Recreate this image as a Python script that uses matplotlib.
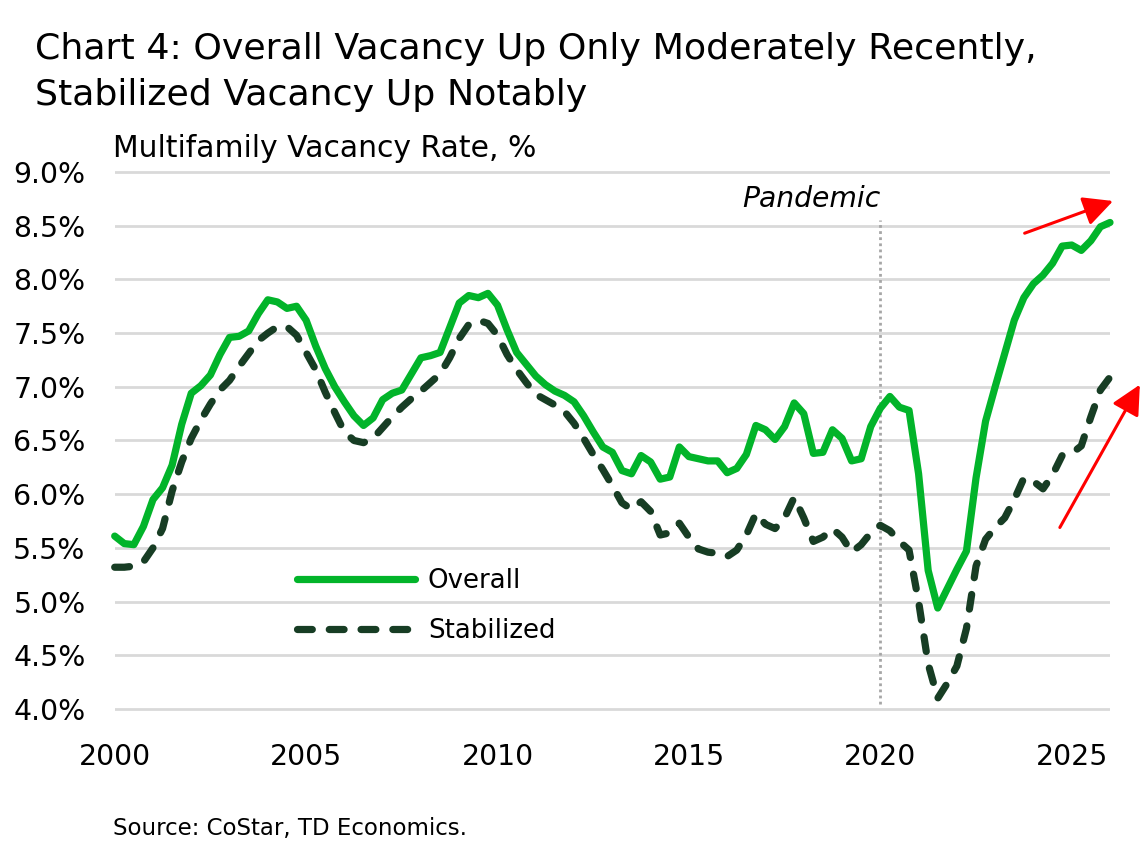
import numpy as np
import matplotlib
matplotlib.use("Agg")
import matplotlib.pyplot as plt

# ---------------- data ----------------
start_year = 2000
quarters_per_year = 4

overall = [
    5.61, 5.54, 5.53, 5.70, 5.95, 6.06, 6.27, 6.65, 6.94, 7.01,   # 2000-2002Q2
    7.11, 7.30, 7.46, 7.47, 7.52, 7.68, 7.81, 7.79, 7.73, 7.75,   # 2002Q3-2004Q4
    7.62, 7.38, 7.17, 7.00, 6.86, 6.73, 6.64, 6.71, 6.88, 6.94,   # 2005-2007Q2
    6.97, 7.12, 7.27, 7.29, 7.32, 7.55, 7.78, 7.85, 7.83, 7.87,   # 2007Q3-2009Q4
    7.76, 7.53, 7.32, 7.21, 7.10, 7.02, 6.96, 6.92, 6.86, 6.73,   # 2010-2012Q2
    6.58, 6.44, 6.39, 6.22, 6.19, 6.36, 6.30, 6.14, 6.16, 6.44,   # 2012Q3-2014Q4
    6.35, 6.33, 6.31, 6.31, 6.20, 6.24, 6.37, 6.64, 6.60, 6.51,   # 2015-2017Q2
    6.63, 6.85, 6.75, 6.38, 6.39, 6.60, 6.52, 6.31, 6.33, 6.63,   # 2017Q3-2019Q4
    6.80, 6.91, 6.81, 6.78, 6.19, 5.29, 4.94, 5.12, 5.30, 5.47,   # 2020-2022Q2
    6.15, 6.68, 7.00, 7.31, 7.62, 7.83, 7.96, 8.04, 8.15, 8.31,   # 2022Q3-2024Q4
    8.32, 8.27, 8.36, 8.49, 8.53,                                 # 2025-2026Q1
]

stabilized = [
    5.32, 5.32, 5.33, 5.37, 5.50, 5.68, 6.03, 6.30, 6.52, 6.69,
    6.84, 6.97, 7.06, 7.19, 7.31, 7.43, 7.50, 7.56, 7.56, 7.48,
    7.32, 7.16, 6.95, 6.76, 6.58, 6.50, 6.48, 6.52, 6.62, 6.72,
    6.81, 6.89, 6.96, 7.04, 7.12, 7.27, 7.45, 7.58, 7.62, 7.59,
    7.48, 7.30, 7.16, 7.04, 6.93, 6.88, 6.83, 6.77, 6.66, 6.52,
    6.37, 6.23, 6.08, 5.92, 5.86, 5.93, 5.84, 5.62, 5.64, 5.73,
    5.60, 5.49, 5.46, 5.45, 5.42, 5.48, 5.62, 5.82, 5.72, 5.68,
    5.78, 5.97, 5.78, 5.56, 5.60, 5.68, 5.60, 5.46, 5.53, 5.64,
    5.71, 5.66, 5.56, 5.48, 5.00, 4.42, 4.10, 4.24, 4.40, 4.75,
    5.33, 5.58, 5.69, 5.78, 5.95, 6.15, 6.12, 6.05, 6.18, 6.36,
    6.38, 6.45, 6.72, 6.97, 7.09,
]

years = start_year + np.arange(len(overall)) / quarters_per_year

x_ticks = [2000, 2005, 2010, 2015, 2020, 2025]
y_ticks = [4.0, 4.5, 5.0, 5.5, 6.0, 6.5, 7.0, 7.5, 8.0, 8.5, 9.0]
y_tick_labels = [f"{v:.1f}%" for v in y_ticks]

series_labels = ["Overall", "Stabilized"]
title_lines = ["Chart 4: Overall Vacancy Up Only Moderately Recently,",
               "Stabilized Vacancy Up Notably"]
subtitle = "Multifamily Vacancy Rate, %"
source = "Source: CoStar, TD Economics."
pandemic_label = "Pandemic"
pandemic_year = 2020.0
pandemic_span = (4.05, 8.55)

# arrows: (tail, tip) in data coords
arrow_overall = ((2023.77, 8.43), (2026.08, 8.73))
arrow_stabilized = ((2024.69, 5.69), (2026.78, 7.02))

# ---------------- style ----------------
GREEN = "#02B42A"
DARK = "#173D24"
GRID = "#d9d9d9"
plt.rcParams["font.family"] = ["DejaVu Sans"]

W, H = 1142, 849
fig = plt.figure(figsize=(W / 100, H / 100), dpi=100)

y_lo, y_hi = 3.97, 9.03
px_per_unit = 107.4
top_px = 172 - (y_hi - 9.0) * px_per_unit
bot_px = 709 + (4.0 - y_lo) * px_per_unit
left_px, right_px = 114.7, 1110
ax = fig.add_axes([left_px / W, 1 - bot_px / H, (right_px - left_px) / W, (bot_px - top_px) / H])

ax.set_xlim(2000, 2026)
ax.set_ylim(y_lo, y_hi)

for s in ax.spines.values():
    s.set_visible(False)

ax.set_yticks(y_ticks)
ax.set_yticklabels(y_tick_labels)
ax.set_xticks(x_ticks)
ax.tick_params(axis="both", length=0, labelsize=20.4, colors="black")
ax.tick_params(axis="y", pad=21)
ax.tick_params(axis="x", pad=22.5)
ax.yaxis.grid(True, color=GRID, lw=2.0)
ax.set_axisbelow(True)

# pandemic line
ax.vlines(pandemic_year, *pandemic_span, colors="#a6a6a6", linestyles=(0, (1, 1.2)), lw=2.0, zorder=1)
ax.text(pandemic_year, 8.75, pandemic_label, ha="right", va="center", fontsize=20.3,
        style="italic", color="black")

ax.plot(years, overall, color=GREEN, lw=5.2, solid_capstyle="round", solid_joinstyle="round",
        label=series_labels[0], zorder=3, clip_on=False)
ax.plot(years, stabilized, color=DARK, lw=5.2, dashes=(2.05, 2.35), dash_capstyle="round",
        dash_joinstyle="round", label=series_labels[1], zorder=4, clip_on=False)

for tail, tip in (arrow_overall, arrow_stabilized):
    ax.annotate("", xy=tip, xytext=tail,
                arrowprops=dict(arrowstyle="-|>,head_length=0.4,head_width=0.2",
                                mutation_scale=45, color="#ff0000", lw=2.2,
                                shrinkA=0, shrinkB=0),
                annotation_clip=False)

leg = ax.legend(loc="center left", bbox_to_anchor=(297 / W, 1 - 606 / H),
                bbox_transform=fig.transFigure, frameon=False, fontsize=18.7,
                handlelength=4.54, handletextpad=0.5, labelspacing=0.93,
                borderpad=0, borderaxespad=0)

fig.text(35 / W, 1 - 59 / H, title_lines[0], fontsize=26.2, va="baseline", ha="left")
fig.text(35 / W, 1 - 105 / H, title_lines[1], fontsize=26.2, va="baseline", ha="left")
fig.text(113 / W, 1 - 157 / H, subtitle, fontsize=21.5, va="baseline", ha="left")
fig.text(113 / W, 1 - 828 / H, source, fontsize=16.5, va="center", ha="left")

fig.savefig("out.png", dpi=100)
